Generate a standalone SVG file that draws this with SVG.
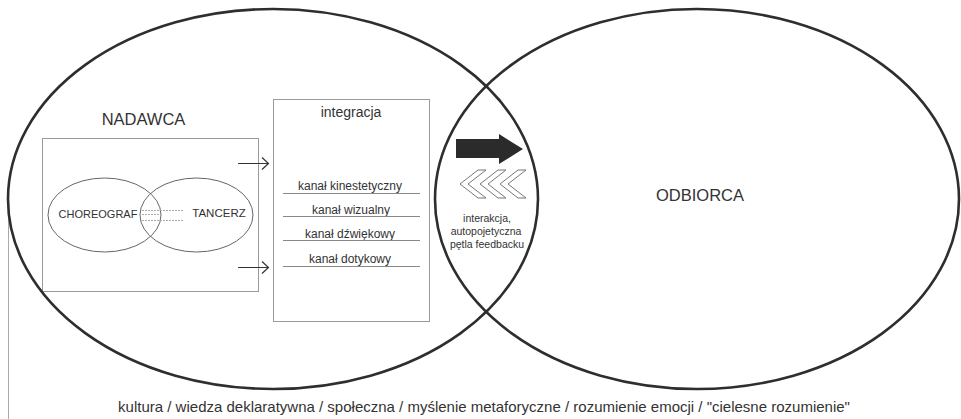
<svg xmlns="http://www.w3.org/2000/svg" width="961" height="419" viewBox="0 0 961 419">
<defs>
<style>
text{font-family:"Liberation Sans",Arial,sans-serif;fill:#333}
.big{fill:none;stroke:#2e2e2e;stroke-width:2.6}
.small{fill:none;stroke:#666;stroke-width:1}
.box{fill:#fff;stroke:#9a9a9a;stroke-width:1}
.ch{stroke:#777;stroke-width:1}
.arr{fill:none;stroke:#333;stroke-width:1.2}
.dot{stroke:#aaa;stroke-width:1;stroke-dasharray:2 1}
</style>
</defs>
<rect width="961" height="419" fill="#fff"/>
<line x1="8.5" y1="196" x2="8.5" y2="419" stroke="#aaa" stroke-width="1"/>
<g id="nadawca-box">
<rect class="box" x="42.5" y="138.5" width="216" height="153"/>
</g>
<g id="integracja">
<rect class="box" x="273.5" y="99.5" width="156" height="222"/>
<text x="351" y="117" font-size="14" text-anchor="middle">integracja</text>
</g>
<g id="choreograf">
<ellipse class="small" cx="104.5" cy="215" rx="56.5" ry="37"/>
<text x="98" y="218" font-size="11" text-anchor="middle">CHOREOGRAF</text>
</g>
<g id="tancerz">
<ellipse class="small" cx="196.5" cy="215" rx="56.5" ry="37"/>
<text x="219" y="217" font-size="11.5" text-anchor="middle">TANCERZ</text>
</g>
<g id="nadawca">
<ellipse class="big" cx="273" cy="199" rx="265" ry="190"/>
<text x="143.5" y="125" font-size="16.5" text-anchor="middle">NADAWCA</text>
</g>
<g id="odbiorca">
<ellipse class="big" cx="697" cy="199" rx="262" ry="190"/>
<text x="700" y="201" font-size="16.5" text-anchor="middle">ODBIORCA</text>
</g>
<g id="kanaly">
<text x="350" y="190" font-size="12" text-anchor="middle">kanał kinestetyczny</text>
<text x="351" y="214" font-size="12" text-anchor="middle">kanał wizualny</text>
<text x="350" y="238" font-size="12" text-anchor="middle">kanał dźwiękowy</text>
<text x="350" y="263" font-size="12" text-anchor="middle">kanał dotykowy</text>
</g>
<g id="interakcja">
<text x="487" y="222" font-size="10.5" text-anchor="middle">interakcja,</text>
<text x="486" y="235" font-size="10.5" text-anchor="middle">autopojetyczna</text>
<text x="487" y="248" font-size="10.5" text-anchor="middle">pętla feedbacku</text>
</g>
<g id="connectors">
<g stroke="#888" stroke-width="1">
<line x1="283" y1="193.5" x2="420" y2="193.5"/>
<line x1="283" y1="216.5" x2="420" y2="216.5"/>
<line x1="283" y1="240.5" x2="420" y2="240.5"/>
<line x1="283" y1="266.5" x2="420" y2="266.5"/>
</g>
<line class="dot" x1="142" y1="210.5" x2="183" y2="210.5"/>
<line class="dot" x1="142" y1="214.5" x2="160" y2="214.5"/>
<line class="dot" x1="142" y1="220.5" x2="183" y2="220.5"/>
<path class="arr" d="M238 163.5H268M262 157.5L268.5 163.5L262 169.5"/>
<path class="arr" d="M238 267.5H268M262 261.5L268.5 267.5L262 273.5"/>
<path d="M456 139H499V134L523 149L499 164V158H456Z" fill="#2b2b2b"/>
<g fill="#fff" class="ch">
<path d="M460 184L478 170H486L468 184L486 198H478Z"/>
<path d="M480 184L498 170H506L488 184L506 198H498Z"/>
<path d="M500 184L518 170H526L508 184L526 198H518Z"/>
</g>
</g>
<text x="484" y="412" font-size="15" text-anchor="middle">kultura / wiedza deklaratywna / społeczna / myślenie metaforyczne / rozumienie emocji / "cielesne rozumienie"</text>
</svg>
